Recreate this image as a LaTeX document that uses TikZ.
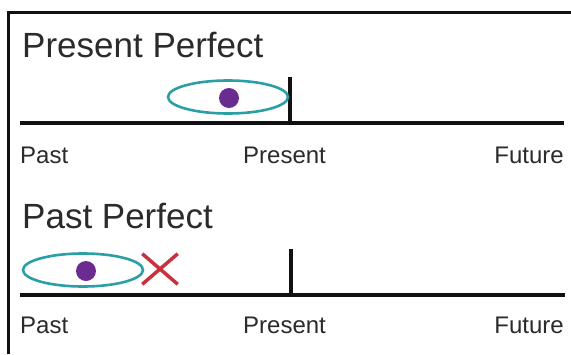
\documentclass[tikz,border=0pt]{standalone}
\usepackage{fontspec}
\setmainfont{Liberation Sans}
\usetikzlibrary{shapes.geometric,shapes.misc,positioning}
\definecolor{ink}{HTML}{111111}
\definecolor{inkgray}{HTML}{2B2B2B}
\definecolor{paper}{HTML}{FFFFFF}
\definecolor{ringteal}{HTML}{2A9FA6}
\definecolor{dotpurple}{HTML}{6B2C91}
\definecolor{crossred}{HTML}{C8323C}
\tikzset{
  axisline/.style={draw=ink,line width=4.5pt},
  nowtick/.style={draw=ink,line width=4pt},
  ring/.style={ellipse,draw=ringteal,line width=2.6pt,minimum width=120pt,minimum height=33pt,inner sep=0pt},
  evdot/.style={circle,fill=dotpurple,minimum size=20pt,inner sep=0pt},
  headline/.style={font=\fontsize{35}{40}\selectfont,anchor=base west,inner sep=0pt,text=inkgray},
  lbl/.style={font=\fontsize{24}{28}\selectfont,inner sep=0pt,text=inkgray},
}
\begin{document}
\begin{tikzpicture}[x=1pt,y=-1pt]
  \useasboundingbox (0,0) rectangle (571,354);
  \fill[paper] (0,0) rectangle (571,354);
  \draw[ink,line width=3pt] (8,354) -- (8,12) -- (571,12);

  % present perfect
  \node[headline] (ppTitle) at (22,57) {Present Perfect};
  \coordinate (ppStart) at (20,123);
  \coordinate (ppEnd) at (564,123);
  \coordinate (ppNow) at (290,123);
  \coordinate (ppNowTop) at (290,77);
  \draw[axisline] (ppStart) -- (ppEnd);
  \draw[nowtick] (ppNow) -- (ppNowTop);
  \node[ring] (ppRing) at (228,97) {};
  \node[evdot] (ppDot) at (229,98) {};
  \node[lbl,anchor=base west] (ppPast) at (20,163) {Past};
  \node[lbl,anchor=base west] (ppPresent) at (243,163) {Present};
  \node[lbl,anchor=base east] (ppFuture) at (564,163) {Future};

  % past perfect
  \node[headline] (pfTitle) at (22,228) {Past Perfect};
  \coordinate (pfStart) at (20,295);
  \coordinate (pfEnd) at (565,295);
  \coordinate (pfNow) at (291,295);
  \coordinate (pfNowTop) at (291,249);
  \draw[axisline] (pfStart) -- (pfEnd);
  \draw[nowtick] (pfNow) -- (pfNowTop);
  \node[ring] (pfRing) at (83,270) {};
  \node[evdot] (pfDot) at (86,271) {};
  \node[cross out,draw=crossred,line width=3.5pt,minimum width=32pt,minimum height=27pt,inner sep=0pt] (pfStop) at (160,269) {};
  \node[lbl,anchor=base west] (pfPast) at (20,333) {Past};
  \node[lbl,anchor=base west] (pfPresent) at (243,333) {Present};
  \node[lbl,anchor=base east] (pfFuture) at (564,333) {Future};
\end{tikzpicture}
\end{document}
